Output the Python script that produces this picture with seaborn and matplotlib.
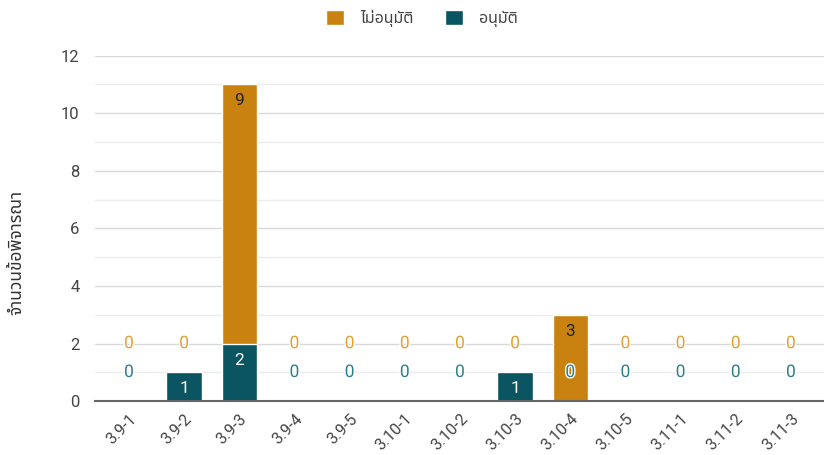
import numpy as np
import pandas as pd
import matplotlib
matplotlib.use("Agg")
import matplotlib.pyplot as plt
import matplotlib.patheffects as pe
import seaborn as sns

categories = ["3.9-1", "3.9-2", "3.9-3", "3.9-4", "3.9-5", "3.10-1", "3.10-2",
              "3.10-3", "3.10-4", "3.10-5", "3.11-1", "3.11-2", "3.11-3"]
approved = [0, 1, 2, 0, 0, 0, 0, 1, 0, 0, 0, 0, 0]
rejected = [0, 0, 9, 0, 0, 0, 0, 0, 3, 0, 0, 0, 0]
series_names = ["ไม่อนุมัติ", "อนุมัติ"]
y_label = "จำนวนข้อพิจารณา"

c_rej = "#c9820f"
c_app = "#0b5461"

sns.set_theme(style="white")
plt.rcParams["font.family"] = ["Roboto", "Noto Sans Thai", "DejaVu Sans"]

fig, ax = plt.subplots(figsize=(8.24, 4.55), dpi=100)
fig.subplots_adjust(left=0.115, right=1.0, top=0.878, bottom=0.118)

df = pd.DataFrame({"cat": categories, "app": approved, "total": np.add(approved, rejected)})

# stacked: draw total first (orange), then approved on top of it
sns.barplot(data=df, x="cat", y="total", color=c_rej, width=0.64, ax=ax,
            saturation=1, zorder=3, label=series_names[0])
sns.barplot(data=df, x="cat", y="app", color=c_app, width=0.64, ax=ax,
            saturation=1, zorder=3, label=series_names[1])
if ax.get_legend() is not None:
    ax.get_legend().remove()

ax.set_ylim(0, 12)
ax.set_xlim(-0.62, len(categories) - 0.4)
ax.set_yticks(range(0, 13, 2))
ax.set_yticks(range(1, 13, 2), minor=True)
ax.grid(axis="y", which="major", color="#d9d9d9", lw=1, zorder=0)
ax.grid(axis="y", which="minor", color="#ececec", lw=1, zorder=0)
ax.tick_params(axis="y", which="both", length=0, labelsize=12, labelcolor="#444444", pad=11)
ax.tick_params(axis="x", length=0, labelsize=11.5, labelcolor="#444444", pad=7)
for lab in ax.get_xticklabels():
    lab.set_rotation(45)
    lab.set_ha("right")
    lab.set_rotation_mode("anchor")
for s in ["top", "right", "left"]:
    ax.spines[s].set_visible(False)
ax.spines["bottom"].set_color("#666666")
ax.spines["bottom"].set_linewidth(1.5)
ax.spines["bottom"].set_zorder(5)
ax.set_xlabel("")
ax.set_ylabel(y_label, fontsize=12.5, color="#333333")
ax.yaxis.set_label_coords(-0.097, 0.43)

# data labels
for i, (a, r) in enumerate(zip(approved, rejected)):
    if a > 0:
        ax.text(i, a - 0.57, str(a), ha="center", va="center", fontsize=12.5, color="white", zorder=6)
    else:
        t = ax.text(i, 1.0, "0", ha="center", va="center", fontsize=12.5, color="#2a7f8a", zorder=6)
        t.set_path_effects([pe.withStroke(linewidth=2, foreground="white")])
    if r > 0:
        ax.text(i, a + r - 0.57, str(r), ha="center", va="center", fontsize=12.5, color="#222222", zorder=6)
    else:
        t = ax.text(i, 2.0, "0", ha="center", va="center", fontsize=12.5, color="#e3a032", zorder=6)
        t.set_path_effects([pe.withStroke(linewidth=2, foreground="white")])

handles, labels = ax.get_legend_handles_labels()
leg = fig.legend(handles, labels, loc="center", bbox_to_anchor=(0.512, 0.96), ncol=2,
                 frameon=False, fontsize=11.5, handlelength=1.1, handleheight=1.1,
                 columnspacing=2.0, handletextpad=1.0)
for t in leg.get_texts():
    t.set_color("#444444")

fig.savefig("out.png", dpi=100)
